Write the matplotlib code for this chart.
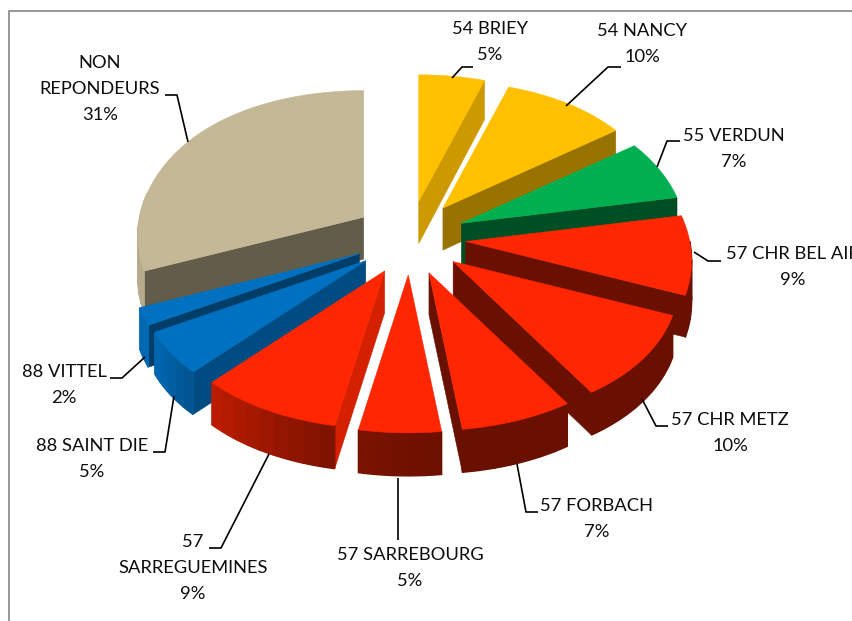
import numpy as np
import matplotlib
matplotlib.use("Agg")
import matplotlib.pyplot as plt
from matplotlib.colors import to_rgb

plt.rcParams['font.family'] = ['Lato', 'DejaVu Sans']

names = ["54 BRIEY", "54 NANCY", "55 VERDUN", "57 CHR BEL AIR", "57 CHR METZ", "57 FORBACH",
         "57 SARREBOURG", "57\nSARREGUEMINES", "88 SAINT DIE", "88 VITTEL", "NON\nREPONDEURS"]
shares = [5, 10, 7, 9, 10, 7, 5, 9, 5, 2, 31]
colors = ["#ffc000", "#ffc000", "#00b050", "#ff2600", "#ff2600", "#ff2600",
          "#ff2600", "#ff2600", "#0070c0", "#0070c0", "#c4b896"]

# label centre (x, y of first line) in pixels
label_pos = [(490, 29), (642, 31), (734, 136), (793, 254), (730, 420), (597, 506),
             (410, 555), (193, 542), (92, 446), (64, 372), (100, 63)]
# leader lines, pixels
leaders = [[(452, 78), (462, 67), (473, 67)],
           [(566, 106), (608, 67), (621, 67)],
           [(657, 167), (667, 141), (680, 141)],
           [(694, 252), (708, 261), (721, 261)],
           [(642, 399), (656, 426), (668, 426)],
           [(517, 464), (526, 512), (538, 512)],
           [(398, 478), (398, 540)],
           [(269, 454), (221, 548), (209, 548)],
           [(174, 396), (165, 452), (153, 452)],
           [(145, 357), (122, 378), (110, 378)],
           [(188, 142), (177, 95), (165, 95)]]

# shading of the side walls, by the direction the wall faces (deg clockwise from top)
radial_angle = [100, 108, 133, 144, 151, 158, 169, 190]
radial_shade = [.84, .80, .68, .60, .55, .50, .45, .41]
rim_angle = [170, 190, 223, 241, 255]
rim_shade = [.41, .48, .74, .93, .93]

CX, CY = 410, 238
EXPLODE_X, EXPLODE_Y = 56, 37


def project(t):
    # t in degrees clockwise from top, perspective makes the front bigger
    u = np.sin(np.radians(t))
    v = -np.cos(np.radians(t))
    rx = 224 + 27 * v + 16 * v ** 2
    return rx * u, 140.5 * v / (1 - 0.11 * v)


def depth(t):
    return 41 - 2 * np.cos(np.radians(t))


def shaded(col, f):
    return tuple(c * f for c in to_rgb(col))


def poly(ax, xs, ys, col, lw=0.4):
    ax.fill(xs, ys, facecolor=col, edgecolor=col, linewidth=lw)


fig = plt.figure(figsize=(8.53, 6.21), dpi=100)
ax = fig.add_axes([0, 0, 1, 1])
ax.set_xlim(0, 853)
ax.set_ylim(621, 0)
ax.axis("off")

edges = np.concatenate([[0], np.cumsum(shares)]) * 3.6
mids = (edges[:-1] + edges[1:]) / 2

# back slices first
order = np.argsort(-np.cos(np.radians(mids)))

for i in order:
    t0, t1, tm = edges[i], edges[i + 1], mids[i]
    ax0 = CX + EXPLODE_X * np.sin(np.radians(tm))
    ay0 = CY - EXPLODE_Y * np.cos(np.radians(tm))
    col = colors[i]

    # radial walls, only those facing the viewer
    for t, normal in ((t0, t0 - 90), (t1, t1 + 90)):
        normal = normal % 360
        if normal <= 90 or normal >= 270:
            continue
        f = np.interp(normal, radial_angle, radial_shade)
        px, py = project(t)
        poly(ax, [ax0, ax0 + px, ax0 + px, ax0],
             [ay0, ay0 + py, ay0 + py + depth(t), ay0 + 42], shaded(col, f))

    # outer wall, small bands for the gradient, front part only
    lo, hi = max(t0, 90), min(t1, 280)
    if hi > lo:
        ts = np.append(np.arange(lo, hi, 3.6), hi)
        for a, b in zip(ts[:-1], ts[1:]):
            sub = np.linspace(a, b, 6)
            xs, ys = project(sub)
            f = np.interp((a + b) / 2, rim_angle, rim_shade)
            poly(ax, np.concatenate([ax0 + xs, (ax0 + xs)[::-1]]),
                 np.concatenate([ay0 + ys, (ay0 + ys + depth(sub))[::-1]]), shaded(col, f), lw=1.0)

    # top face
    tt = np.linspace(t0, t1, 60)
    px, py = project(tt)
    poly(ax, np.concatenate([[ax0], ax0 + px]), np.concatenate([[ay0], ay0 + py]), col)

for pts in leaders:
    xs, ys = zip(*pts)
    ax.plot(xs, ys, color="black", lw=1.2, solid_capstyle="butt", solid_joinstyle="round")

for name, share, (lx, ly) in zip(names, shares, label_pos):
    lines = name.split("\n") + [f"{share}%"]
    for k, line in enumerate(lines):
        ax.text(lx, ly + k * 26, line, ha="center", va="center", fontsize=13.2, color="#0d0d0d", clip_on=False)

# chart frame, cut by the crop on the right and at the bottom
ax.plot([9, 9, 853], [621, 11, 11], color="#868686", lw=1.2, solid_joinstyle="miter")

fig.savefig("out.png", dpi=100)
